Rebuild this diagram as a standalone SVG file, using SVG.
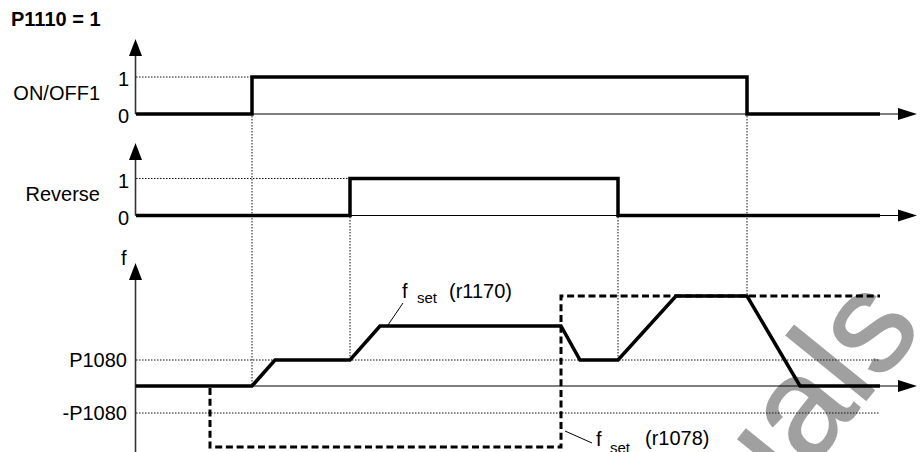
<svg xmlns="http://www.w3.org/2000/svg" width="922" height="452" viewBox="0 0 922 452">
<style>
text { font-family: "Liberation Sans", Arial, sans-serif; font-size: 20px; fill: #000; }
.title { font-weight: bold; }
.sub { font-size: 15px; }
.wm { font-size: 142px; fill: #a0a0a0; stroke: #a0a0a0; stroke-width: 1.5; }
.axis { stroke: #333; stroke-width: 1.6; fill: none; }
.haxis { stroke: #000; stroke-width: 1.2; fill: none; }
.sig { stroke: #000; stroke-width: 3.5; fill: none; stroke-linejoin: miter; }
.ref { stroke: #000; stroke-width: 3; fill: none; stroke-dasharray: 7 3.7; }
.dot { stroke: #111; stroke-width: 1; fill: none; stroke-dasharray: 1.5 1.5; }
.lead { stroke: #000; stroke-width: 1; fill: none; }
.head { fill: #000; }
</style>
<defs>
<polygon id="up" class="head" points="-6.5,17 6.5,17 0,0"/>
<polygon id="right" class="head" points="-19,-6 -19,6 0,0"/>
</defs>

<text class="wm" transform="translate(587,745) rotate(-51)">Manuals</text>

<text class="title" x="11" y="26">P1110 = 1</text>

<g id="onoff1">
<line class="axis" x1="135.5" y1="114" x2="135.5" y2="50"/>
<use href="#up" x="135.5" y="39"/>
<line class="haxis" x1="135.5" y1="114" x2="905" y2="114"/>
<use href="#right" x="917" y="114"/>
<line class="dot" x1="136" y1="77" x2="252" y2="77"/>
<text x="100" y="100" text-anchor="end">ON/OFF1</text>
<text x="129" y="86" text-anchor="end">1</text>
<text x="129" y="123" text-anchor="end">0</text>
<path class="sig" d="M136,114 H252 V77 H747 V114 H880"/>
</g>

<g id="reverse">
<line class="axis" x1="135.5" y1="215.5" x2="135.5" y2="154"/>
<use href="#up" x="135.5" y="143"/>
<line class="haxis" x1="135.5" y1="215.5" x2="905" y2="215.5"/>
<use href="#right" x="917" y="215.5"/>
<line class="dot" x1="136" y1="178.5" x2="350" y2="178.5"/>
<text x="100" y="201" text-anchor="end">Reverse</text>
<text x="129" y="188" text-anchor="end">1</text>
<text x="129" y="225" text-anchor="end">0</text>
<path class="sig" d="M136,215.5 H350 V178.5 H618 V215.5 H880"/>
</g>

<g id="frequency">
<line class="axis" x1="135.5" y1="452" x2="135.5" y2="275"/>
<use href="#up" x="135.5" y="263"/>
<line class="haxis" x1="135.5" y1="386" x2="905" y2="386"/>
<use href="#right" x="917" y="386"/>
<line class="dot" x1="136" y1="360" x2="880" y2="360"/>
<line class="dot" x1="136" y1="413" x2="880" y2="413"/>
<text x="121" y="265">f</text>
<text x="127" y="367" text-anchor="end">P1080</text>
<text x="127" y="420" text-anchor="end">-P1080</text>
<path class="ref" d="M210,388 V447 H561 V296 H880"/>
<path class="sig" d="M136,386 H252 L275,360 H350 L380,326 H561 L580,360 H618 L676,296 H747 L800,386 H880"/>
</g>

<g id="connectors">
<line class="dot" x1="252" y1="116" x2="252" y2="386"/>
<line class="dot" x1="350" y1="217" x2="350" y2="360"/>
<line class="dot" x1="618" y1="217" x2="618" y2="360"/>
<line class="dot" x1="747" y1="116" x2="747" y2="296"/>
<line class="lead" x1="388" y1="325" x2="403" y2="303"/>
<line class="lead" x1="565" y1="431" x2="592" y2="443"/>
</g>

<g id="label-fset-r1170">
<text x="402" y="298">f</text>
<text class="sub" x="417" y="303">set</text>
<text x="449" y="298">(r1170)</text>
</g>

<g id="label-fset-r1078">
<text x="596" y="446">f</text>
<text class="sub" x="610" y="453">set</text>
<text x="645" y="445">(r1078)</text>
</g>
</svg>
